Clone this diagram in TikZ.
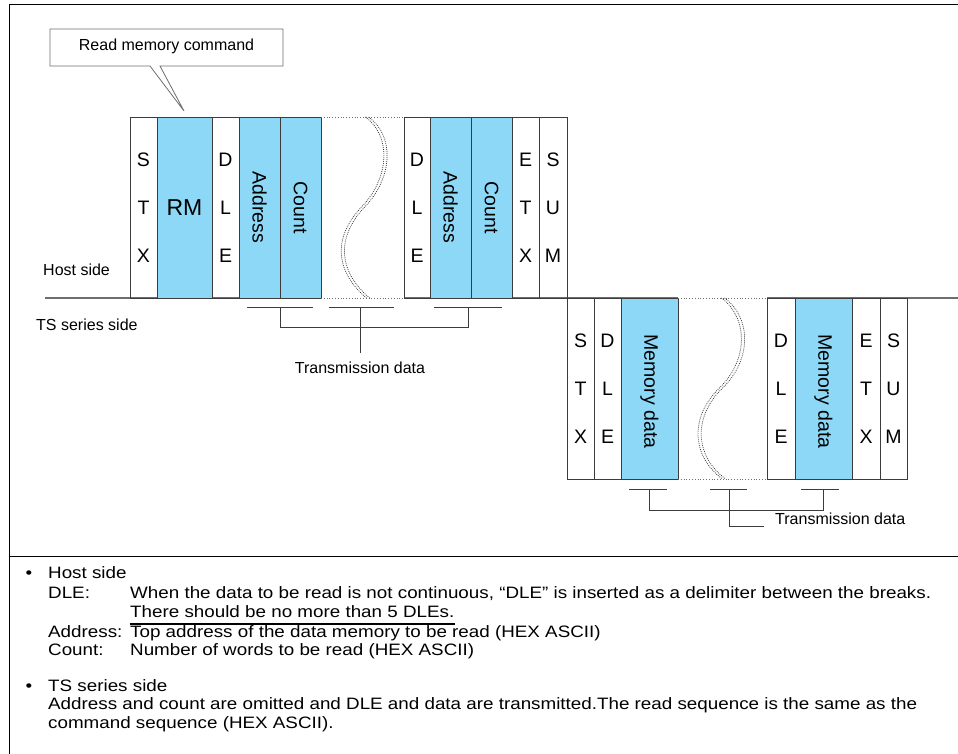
\documentclass[tikz,border=0pt]{standalone}
\usepackage{fontspec}
\setmainfont{Liberation Sans}
\newfontfamily\widefont[FakeStretch=1.14]{Liberation Sans}
\definecolor{bluefill}{RGB}{141,216,247}
\definecolor{fcol}{RGB}{60,60,60}
\definecolor{lcol}{RGB}{110,110,110}
\begin{document}
\begin{tikzpicture}[x=1pt,y=-1pt,
  fbox/.style={draw=fcol, line width=0.8pt, inner sep=0pt, outer sep=0pt, anchor=north west, align=center,
    font=\fontsize{19.5}{48}\selectfont},
  hostbox/.style={fbox, minimum height=181pt},
  tsbox/.style={fbox, minimum height=181pt},
  bluebox/.style={fill=bluefill},
  vlab/.style={rotate=-90, inner sep=0pt, font=\fontsize{19.5}{22}\selectfont},
  lab/.style={inner sep=0pt, font=\fontsize{16}{19}\selectfont},
  gapline/.style={lcol, line width=0.8pt, dotted},
  wave/.style={black!80, line width=0.7pt, dash pattern=on 0.9pt off 1.1pt},
  brk/.style={fcol, line width=0.8pt},
  txt/.style={inner sep=0pt, anchor=base west, font=\widefont\fontsize{16.5}{19}\selectfont},
]
\useasboundingbox (0,0) rectangle (958,754);

% outer frame
\draw[black, line width=1pt] (958,5) -- (9,5) -- (9,754);
\draw[black, line width=1pt] (9,556) -- (958,556);

% base line (solid segments)
\draw[lcol, line width=1.2pt] (45,298) -- (321,298);
\draw[lcol, line width=1.2pt] (404,298) -- (678,298);
\draw[lcol, line width=1.2pt] (767,298) -- (958,298);

% side labels
\node[lab, anchor=west] (host) at (43,270) {Host side};
\node[lab, anchor=west] (ts) at (36,325) {TS series side};

% callout
\draw[lcol, line width=0.8pt, fill=white] (50,29) -- (283,29) -- (283,66) -- (160,66) -- (184,111) -- (150,66) -- (50,66) -- cycle;
\node[lab] (cmd) at (166.5,46.5) {Read memory command};

% host frames
\node[hostbox, minimum width=27pt] (hstx) at (130,117) {S\\T\\X};
\node[hostbox, bluebox, minimum width=55pt, font=\fontsize{23}{26}\selectfont] (hrm) at (157,117) {RM};
\node[hostbox, minimum width=27pt] (hdle1) at (212,117) {D\\L\\E};
\node[hostbox, bluebox, minimum width=41pt] (haddr1) at (239,117) {};
\node[hostbox, bluebox, minimum width=41pt] (hcnt1) at (280,117) {};
\node[hostbox, minimum width=26pt] (hdle2) at (404,117) {D\\L\\E};
\node[hostbox, bluebox, minimum width=41pt] (haddr2) at (430,117) {};
\node[hostbox, bluebox, minimum width=41pt] (hcnt2) at (471,117) {};
\node[hostbox, minimum width=27pt] (hetx) at (512,117) {E\\T\\X};
\node[hostbox, minimum width=28pt] (hsum) at (539,117) {S\\U\\M};
\node[vlab] (haddr1t) at (haddr1.center) {Address};
\node[vlab] (hcnt1t) at (hcnt1.center) {Count};
\node[vlab] (haddr2t) at (haddr2.center) {Address};
\node[vlab] (hcnt2t) at (hcnt2.center) {Count};

% host gap
\draw[gapline] (hcnt1.north east) -- (hdle2.north west);
\draw[gapline] (hcnt1.south east) -- (hdle2.south west);
\foreach \s in {-1.6,1.6}{
  \draw[wave, xshift=\s pt] (367,117) .. controls (392,135) and (392,175) .. (365,205)
     .. controls (335,235) and (335,270) .. (368,298);
}

% TS frames
\node[tsbox, minimum width=27pt] (tstx) at (567,298) {S\\T\\X};
\node[tsbox, minimum width=27pt] (tdle1) at (594,298) {D\\L\\E};
\node[tsbox, bluebox, minimum width=57pt] (tmem1) at (621,298) {};
\node[tsbox, minimum width=28pt] (tdle2) at (767,298) {D\\L\\E};
\node[tsbox, bluebox, minimum width=57pt] (tmem2) at (795,298) {};
\node[tsbox, minimum width=28pt] (tetx) at (852,298) {E\\T\\X};
\node[tsbox, minimum width=27pt] (tsum) at (880,298) {S\\U\\M};
\node[vlab] (tmem1t) at ([yshift=-3pt]tmem1.center) {Memory data};
\node[vlab] (tmem2t) at ([yshift=-3pt]tmem2.center) {Memory data};

% TS gap
\draw[gapline] (tmem1.north east) -- (tdle2.north west);
\draw[gapline] (tmem1.south east) -- (tdle2.south west);
\foreach \s in {-1.6,1.6}{
  \draw[wave, xshift=\s pt] (723,298) .. controls (750,318) and (750,360) .. (721,388)
     .. controls (692,416) and (692,455) .. (724,479);
}

% host brackets
\coordinate (hb1a) at (247,307); \coordinate (hb1b) at (313,307);
\coordinate (hb2a) at (329,307); \coordinate (hb2b) at (394,307);
\coordinate (hb3a) at (434,307); \coordinate (hb3b) at (502,307);
\coordinate (hv1) at (280,307); \coordinate (hv2) at (360,307); \coordinate (hv3) at (468,307);
\coordinate (hj1) at (280,327); \coordinate (hj3) at (468,327);
\coordinate (hend) at (360,353);
\draw[brk] (hb1a) -- (hb1b);
\draw[brk] (hb2a) -- (hb2b);
\draw[brk] (hb3a) -- (hb3b);
\draw[brk] (hv1) -- (hj1) -- (hj3) -- (hv3);
\draw[brk] (hv2) -- (hend);
\node[lab] (htd) at (360,368) {Transmission data};

% TS brackets
\coordinate (tb1a) at (629,489); \coordinate (tb1b) at (667,489);
\coordinate (tb2a) at (710,489); \coordinate (tb2b) at (747,489);
\coordinate (tb3a) at (801,489); \coordinate (tb3b) at (839,489);
\coordinate (tv1) at (649,489); \coordinate (tv2) at (729,489); \coordinate (tv3) at (823,489);
\coordinate (tj1) at (649,510); \coordinate (tj3) at (823,510);
\coordinate (tcorner) at (729,526); \coordinate (tend) at (764,526);
\draw[brk] (tb1a) -- (tb1b);
\draw[brk] (tb2a) -- (tb2b);
\draw[brk] (tb3a) -- (tb3b);
\draw[brk] (tv1) -- (tj1) -- (tj3) -- (tv3);
\draw[brk] (tv2) -- (tcorner) -- (tend);
\node[lab, anchor=west] (ttd) at (775,519) {Transmission data};

% notes
\node[txt, anchor=base] (b1) at (29,578) {•};
\node[txt] (n1) at (48,578) {Host side};
\node[txt] (n2) at (48,598) {DLE:};
\node[txt] (n2t) at (130,598) {When the data to be read is not continuous, “DLE” is inserted as a delimiter between the breaks.};
\node[txt] (n3t) at (130,617) {There should be no more than 5 DLEs.};
\draw[black, line width=1.3pt] ([yshift=-7pt]n3t.base west) -- ([yshift=-7pt]n3t.base east);
\node[txt] (n4) at (48,637) {Address:};
\node[txt] (n4t) at (130,637) {Top address of the data memory to be read (HEX ASCII)};
\node[txt] (n5) at (48,655) {Count:};
\node[txt] (n5t) at (130,655) {Number of words to be read (HEX ASCII)};
\node[txt, anchor=base] (b2) at (29,691) {•};
\node[txt] (n6) at (48,691) {TS series side};
\node[txt] (n7) at (48,709) {Address and count are omitted and DLE and data are transmitted.The read sequence is the same as the};
\node[txt] (n8) at (48,728) {command sequence (HEX ASCII).};
\end{tikzpicture}
\end{document}
